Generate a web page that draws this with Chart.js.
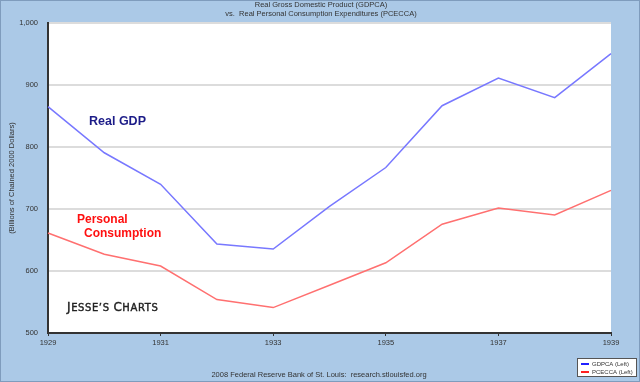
<!DOCTYPE html>
<html>
<head>
<meta charset="utf-8">
<script src="https://cdn.jsdelivr.net/npm/chart.js@4.4.1/dist/chart.umd.min.js"></script>
<style>
  html, body { margin: 0; padding: 0; background: #abc9e7; }
  canvas { display: block; }
</style>
</head>
<body>
<canvas id="grafica" width="640" height="382"></canvas>
<script>
// datos
const years = ['1929', '1930', '1931', '1932', '1933', '1934', '1935', '1936', '1937', '1938', '1939'];
const gdpca = [865.2, 790.7, 739.9, 643.7, 635.5, 704.2, 766.9, 866.6, 911.1, 879.7, 950.7];
const pcecca = [661.4, 626.9, 608.0, 553.9, 541.0, 577.0, 613.3, 675.5, 701.6, 690.3, 730.0];
const yTicks = [500, 600, 700, 800, 900, 1000];

const titleLines = ['Real Gross Domestic Product (GDPCA)', 'vs.  Real Personal Consumption Expenditures (PCECCA)'];
const yTitle = '(Billions of Chained 2000 Dollars)';
const footer = '2008 Federal Reserve Bank of St. Louis:  research.stlouisfed.org';

const small = '"Liberation Sans", Arial, sans-serif';

// fondo y textos extra
const decor = {
    id: 'decor',
    beforeDraw(chart) {
        const { ctx, chartArea: a } = chart;
        ctx.save();
        ctx.fillStyle = '#abc9e7';
        ctx.fillRect(0, 0, chart.width, chart.height);
        ctx.fillStyle = '#ffffff';
        ctx.fillRect(a.left, a.top, a.right - a.left, a.bottom - a.top);
        ctx.restore();
    },
    afterDraw(chart) {
        const { ctx, chartArea: a } = chart;
        ctx.save();
        // borde exterior
        ctx.strokeStyle = '#7f9cbd';
        ctx.lineWidth = 1;
        ctx.strokeRect(0.5, 0.5, chart.width - 1, chart.height - 1);

        // titulo
        ctx.fillStyle = '#333';
        ctx.font = '7.5px ' + small;
        ctx.textAlign = 'center';
        ctx.textBaseline = 'middle';
        ctx.fillText(titleLines[0], 321, 5);
        ctx.fillText(titleLines[1], 321, 14);

        // pie
        ctx.fillText(footer, 319, 375);

        // titulo eje y
        ctx.save();
        ctx.translate(12, (a.top + a.bottom) / 2);
        ctx.rotate(-Math.PI / 2);
        ctx.fillText(yTitle, 0, 0);
        ctx.restore();

        // anotaciones
        ctx.font = 'bold 12.5px ' + small;
        ctx.textAlign = 'left';
        ctx.fillStyle = '#1c1c88';
        ctx.fillText('Real GDP', 89, 122);
        ctx.fillStyle = '#ff1010';
        ctx.font = 'bold 12px ' + small;
        ctx.fillText('Personal', 77, 220);
        ctx.fillText('Consumption', 84, 234);

        // firma
        ctx.fillStyle = '#222';
        ctx.strokeStyle = '#222';
        ctx.lineWidth = 0.4;
        ctx.letterSpacing = '0.6px';
        ctx.textBaseline = 'alphabetic';
        let x = 67;
        const parts = [['J', 12], ['ESSE\u2019S ', 10], ['C', 12], ['HARTS', 10]];
        parts.forEach(function(p) {
            ctx.font = p[1] + 'px "DejaVu Sans", sans-serif';
            ctx.fillText(p[0], x, 311);
            ctx.strokeText(p[0], x, 311);
            x += ctx.measureText(p[0]).width;
        });
        ctx.letterSpacing = '0px';

        // leyenda
        ctx.fillStyle = '#ffffff';
        ctx.fillRect(577.5, 358.5, 59, 18);
        ctx.strokeStyle = '#555';
        ctx.lineWidth = 1;
        ctx.strokeRect(577.5, 358.5, 59, 18);
        ctx.fillStyle = '#2020ff';
        ctx.fillRect(581, 363, 8, 2);
        ctx.fillStyle = '#ff2020';
        ctx.fillRect(581, 371, 8, 2);
        ctx.fillStyle = '#333';
        ctx.font = '6px ' + small;
        ctx.textBaseline = 'middle';
        ctx.fillText('GDPCA (Left)', 592, 364);
        ctx.fillText('PCECCA (Left)', 592, 372);
        ctx.restore();
    }
};

new Chart(document.getElementById('grafica').getContext('2d'), {
    type: 'line',
    data: {
        labels: years,
        datasets: [
            {
                label: 'GDPCA (Left)',
                data: gdpca,
                borderColor: '#7878ff',
                borderWidth: 1.5,
                pointRadius: 0,
                tension: 0
            },
            {
                label: 'PCECCA (Left)',
                data: pcecca,
                borderColor: '#ff7070',
                borderWidth: 1.5,
                pointRadius: 0,
                tension: 0
            }
        ]
    },
    options: {
        responsive: false,
        animation: false,
        events: [],
        layout: { padding: { top: 23, right: 29, bottom: 29, left: 0 } },
        plugins: {
            legend: { display: false },
            tooltip: { enabled: false }
        },
        scales: {
            x: {
                afterFit(scale) { scale.height = 20; },
                border: { color: '#333', width: 2 },
                grid: {
                    drawOnChartArea: false,
                    tickLength: 3,
                    color: function(c) { return c.index % 2 === 0 ? '#333' : 'rgba(0,0,0,0)'; }
                },
                ticks: {
                    autoSkip: false,
                    maxRotation: 0,
                    padding: 2,
                    color: '#333',
                    font: { size: 7.5, family: small },
                    callback: function(v, i) { return i % 2 === 0 ? years[i] : ''; }
                }
            },
            y: {
                min: yTicks[0],
                max: yTicks[yTicks.length - 1],
                afterFit(scale) { scale.width = 48; },
                afterBuildTicks(scale) { scale.ticks = yTicks.map(v => ({ value: v })); },
                border: { color: '#333', width: 2 },
                grid: { color: '#dcdcdc', lineWidth: 2, drawTicks: false },
                ticks: {
                    padding: 10,
                    color: '#333',
                    font: { size: 7.5, family: small },
                    callback: function(v) { return v.toLocaleString('en-US'); }
                }
            }
        }
    },
    plugins: [decor]
});
</script>
</body>
</html>
